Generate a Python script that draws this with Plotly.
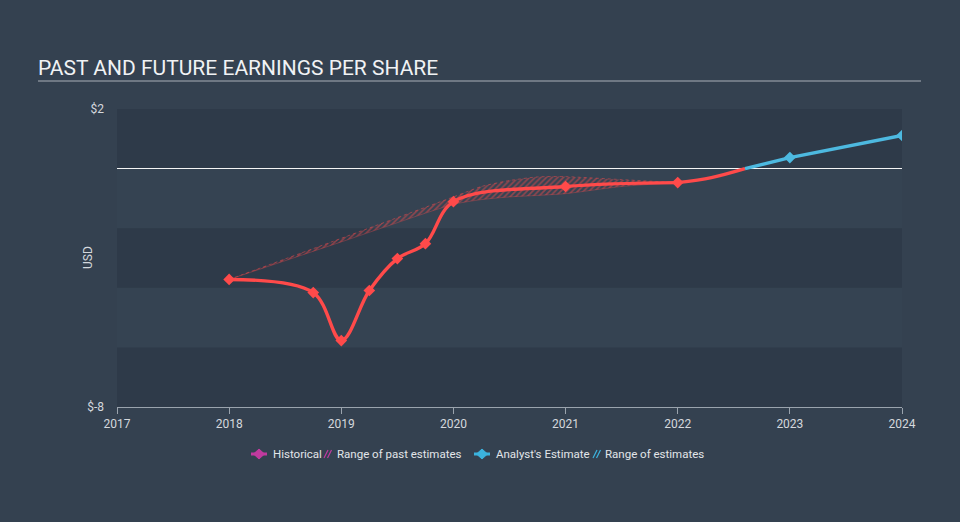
import plotly.graph_objects as go

# ---- data (fractional years, USD) ----
hist_x = [2018.0, 2018.75, 2019.0, 2019.25, 2019.5, 2019.75, 2020.0, 2021.0, 2022.0]
hist_y = [-3.72, -4.16, -5.77, -4.09, -3.02, -2.52, -1.11, -0.60, -0.47]

bridge_x = [2022.0, 2022.3, 2022.6]
bridge_y = [-0.47, -0.30, 0.0]

est_x = [2022.6, 2023.0, 2024.0]
est_y = [0.0, 0.37, 1.11]
est_mark_x = [2023.0, 2024.0]
est_mark_y = [0.37, 1.11]

range_x = [2018.0, 2019.0, 2020.0, 2020.25, 2020.5, 2020.75, 2021.0, 2021.5, 2022.0]
range_hi = [-3.72, -2.34, -0.95, -0.60, -0.40, -0.28, -0.27, -0.37, -0.47]
range_lo = [-3.72, -2.46, -1.20, -1.04, -0.95, -0.90, -0.84, -0.60, -0.47]

x_ticks = [2017, 2018, 2019, 2020, 2021, 2022, 2023, 2024]
y_tickvals = [-8, 2]
y_ticktext = ["$-8", "$2"]

legend_labels = ["Historical", "Range of past estimates", "Analyst's Estimate", "Range of estimates"]

RED = "#ff4a4a"
BLUE = "#4db9e0"
MAGENTA = "#c13a9f"
CYAN = "#3bb3de"
BG = "#344150"
BAND_DARK = "#2e3a49"
BAND_LIGHT = "#354352"
TXT = "#d4d8dd"

fig = go.Figure()

# range of past estimates (hatched)
fig.add_trace(go.Scatter(x=range_x, y=range_lo, mode="lines",
                         line=dict(color="rgba(255,74,74,0.5)", width=0.6, shape="spline", smoothing=0.6),
                         showlegend=False, hoverinfo="skip"))
fig.add_trace(go.Scatter(x=range_x, y=range_hi, mode="lines", fill="tonexty",
                         fillcolor="rgba(0,0,0,0)",
                         fillpattern=dict(shape="/", fgcolor="rgba(255,74,74,0.9)", bgcolor="rgba(0,0,0,0)",
                                          size=4, solidity=0.4),
                         line=dict(color="rgba(255,74,74,0.6)", width=0.8, shape="spline", smoothing=0.6, dash="dot"),
                         showlegend=False, hoverinfo="skip"))

# bridge red to estimate
fig.add_trace(go.Scatter(x=bridge_x, y=bridge_y, mode="lines",
                         line=dict(color=RED, width=3.4, shape="spline"),
                         showlegend=False, hoverinfo="skip"))
# historical
fig.add_trace(go.Scatter(x=hist_x, y=hist_y, mode="lines+markers", name="Historical",
                         line=dict(color=RED, width=3.4, shape="spline", smoothing=1.0),
                         marker=dict(symbol="diamond", size=9, color=RED),
                         showlegend=False))
# estimates
fig.add_trace(go.Scatter(x=est_x, y=est_y, mode="lines",
                         line=dict(color=BLUE, width=3.4),
                         showlegend=False, hoverinfo="skip"))
fig.add_trace(go.Scatter(x=est_mark_x, y=est_mark_y, mode="markers", name="Analyst's Estimate",
                         marker=dict(symbol="diamond", size=9, color=BLUE),
                         showlegend=False))

L, R, T, B = 117, 58, 109, 115
pw, ph = 960 - L - R, 522 - T - B


def px(xp):
    return (xp - L) / pw


def py(yp):
    return (522 - B - yp) / ph


shapes = []
for y0, y1 in [(0, 2), (-4, -2), (-8, -6)]:
    shapes.append(dict(type="rect", xref="x", yref="y", x0=2017, x1=2024, y0=y0, y1=y1,
                       fillcolor=BAND_DARK, line=dict(width=0), layer="below"))
# title underline
shapes.append(dict(type="line", xref="paper", yref="paper",
                   x0=px(38), x1=px(921), y0=py(81), y1=py(81),
                   line=dict(color="#a9b0b8", width=1)))

# ---- manual legend ----
LEG_Y = 454
annotations = []
legend_items = [
    ("marker", MAGENTA, 259, 271, legend_labels[0]),
    ("hatch", MAGENTA, 328, 335, legend_labels[1]),
    ("marker", CYAN, 482, 494, legend_labels[2]),
    ("hatch", CYAN, 597, 603, legend_labels[3]),
]
for kind, col, cx, tx, lab in legend_items:
    if kind == "marker":
        shapes.append(dict(type="path", xref="paper", yref="paper", xsizemode="pixel", ysizemode="pixel",
                           xanchor=px(cx), yanchor=py(LEG_Y), path="M -8 0 L 8 0",
                           line=dict(color=col, width=3)))
        shapes.append(dict(type="path", xref="paper", yref="paper", xsizemode="pixel", ysizemode="pixel",
                           xanchor=px(cx), yanchor=py(LEG_Y), path="M 0 5 L 5.5 0 L 0 -5 L -5.5 0 Z",
                           fillcolor=col, line=dict(color=col, width=1)))
    else:
        shapes.append(dict(type="path", xref="paper", yref="paper", xsizemode="pixel", ysizemode="pixel",
                           xanchor=px(cx), yanchor=py(LEG_Y),
                           path="M -4 -4 L 0 4 M -0.5 -4 L 3.5 4",
                           line=dict(color=col, width=1.2)))
    annotations.append(dict(text=lab, xref="paper", yref="paper", x=px(tx), y=py(LEG_Y),
                            xanchor="left", yanchor="middle", showarrow=False,
                            font=dict(size=11.5, color="#e2e5e9", family="Roboto")))

# y axis title
annotations.append(dict(text="USD", xref="paper", yref="paper", x=px(88), y=py(258), textangle=-90,
                        xanchor="center", yanchor="middle", showarrow=False,
                        font=dict(size=12, color=TXT, family="Roboto")))

fig.update_layout(
    width=960, height=522,
    margin=dict(l=L, r=R, t=T, b=B),
    paper_bgcolor=BG, plot_bgcolor=BAND_LIGHT,
    font=dict(family="Roboto", color=TXT, size=12),
    title=dict(text="PAST AND FUTURE EARNINGS PER SHARE", x=38 / 960, xanchor="left",
               y=1 - 68 / 522, yanchor="middle", font=dict(size=21, color="#f0f2f4", family="Roboto")),
    shapes=shapes,
    annotations=annotations,
    showlegend=False,
    xaxis=dict(range=[2017, 2024], tickvals=x_ticks, showgrid=False, zeroline=False,
               showline=True, linecolor="#9aa3ad", linewidth=1, ticks="outside", ticklen=6,
               tickcolor="#9aa3ad", tickfont=dict(size=12, color=TXT), fixedrange=True),
    yaxis=dict(range=[-8, 2], tickvals=y_tickvals, ticktext=y_ticktext, showgrid=False,
               zeroline=True, zerolinecolor="#f4f4f4", zerolinewidth=1, showline=False,
               ticks="", ticklabelstandoff=12, tickfont=dict(size=12, color=TXT), fixedrange=True),
    hovermode=False,
)

fig.write_html("out.html")
